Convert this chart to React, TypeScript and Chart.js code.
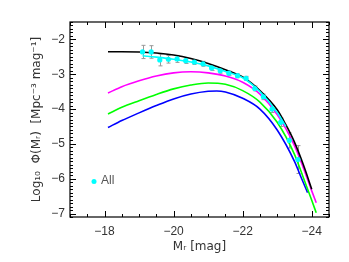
import React, { useEffect, useRef } from "react";
import { Chart, registerables } from "chart.js";

Chart.register(...registerables);

// ---- data ----
const blackX = [-18.1, -18.5, -19, -19.5, -20, -20.5, -21, -21.5, -22, -22.5, -23, -23.25, -23.5, -23.75, -24.0];
const blackY = [-2.355, -2.355, -2.36, -2.39, -2.45, -2.55, -2.69, -2.87, -3.08, -3.47, -4.02, -4.45, -4.95, -5.58, -6.3];

const magentaX = [-18.1, -18.5, -19, -19.5, -20, -20.5, -21, -21.5, -22, -22.5, -23, -23.5, -23.75, -24, -24.13];
const magentaY = [-3.54, -3.36, -3.19, -3.05, -2.96, -2.93, -2.96, -3.05, -3.23, -3.57, -4.16, -5.05, -5.67, -6.35, -6.69];

const greenX = [-18.1, -18.5, -19, -19.5, -20, -20.5, -21, -21.5, -22, -22.5, -23, -23.5, -23.75, -24, -24.13];
const greenY = [-4.14, -3.95, -3.76, -3.58, -3.42, -3.31, -3.25, -3.29, -3.47, -3.8, -4.38, -5.3, -5.95, -6.62, -6.98];

const blueX = [-18.1, -18.5, -19, -19.5, -20, -20.5, -21, -21.25, -21.5, -22, -22.5, -23, -23.5, -23.7, -23.88];
const blueY = [-4.53, -4.33, -4.11, -3.9, -3.71, -3.57, -3.49, -3.48, -3.51, -3.69, -4.0, -4.6, -5.5, -5.98, -6.4];

const fitX = [-19.1, -19.5, -20, -20.5, -21, -21.5, -22, -22.5, -23, -23.25];
const fitY = [-2.47, -2.51, -2.57, -2.65, -2.76, -2.92, -3.1, -3.5, -4.1, -4.5];

const ptX = [-19.1, -19.35, -19.6, -19.85, -20.1, -20.35, -20.6, -20.85, -21.1, -21.35, -21.6, -21.85, -22.1, -22.35, -22.6, -22.85, -23.1, -23.35, -23.6];
const ptY = [-2.36, -2.36, -2.59, -2.57, -2.56, -2.61, -2.65, -2.7, -2.82, -2.9, -2.97, -3.04, -3.12, -3.41, -3.65, -4.0, -4.38, -4.9, -5.45];
const ptErr = [0.19, 0.18, 0.17, 0.11, 0.1, 0.08, 0.07, 0.07, 0.07, 0.07, 0.06, 0.06, 0.06, 0.07, 0.08, 0.1, 0.12, 0.22, 0.4];

const xTicks = [-18, -20, -22, -24];
const yTicks = [-7, -6, -5, -4, -3, -2];
const legendLabel = "All";

const FONT = "'Liberation Sans', 'DejaVu Sans', Arial, sans-serif";
const TEXT = "#333";

const pairs = (xs: number[], ys: number[]) => xs.map((x, i) => ({ x, y: ys[i] }));
const fmt = (v: number) => (v < 0 ? "\u2212" + Math.abs(v) : String(v));

const framePlugin = {
  id: "frame",
  beforeDatasetsDraw(chart: any) {
    const { ctx, scales } = chart;
    const x = scales.x, y = scales.y;
    ctx.save();
    ctx.strokeStyle = "#999";
    ctx.lineWidth = 1;
    ptX.forEach((px, i) => {
      const cx = Math.round(x.getPixelForValue(px)) + 0.5;
      const y1 = y.getPixelForValue(ptY[i] + ptErr[i]);
      const y2 = y.getPixelForValue(ptY[i] - ptErr[i]);
      ctx.beginPath();
      ctx.moveTo(cx, y1);
      ctx.lineTo(cx, y2);
      ctx.moveTo(cx - 2, y1);
      ctx.lineTo(cx + 2, y1);
      ctx.moveTo(cx - 2, y2);
      ctx.lineTo(cx + 2, y2);
      ctx.stroke();
    });
    ctx.restore();
  },
  afterDraw(chart: any) {
    const { ctx, chartArea: a, scales } = chart;
    const x = scales.x, y = scales.y;
    ctx.save();
    ctx.strokeStyle = "#000";
    ctx.lineWidth = 1.2;
    ctx.strokeRect(a.left, a.top, a.right - a.left, a.bottom - a.top);
    ctx.lineWidth = 1;
    ctx.beginPath();
    for (let k = Math.ceil(x.min * 2); k <= Math.floor(x.max * 2); k++) {
      const v = k / 2;
      const major = k % 4 === 0;
      const len = major ? 6 : 3;
      const px = Math.round(x.getPixelForValue(v)) + 0.5;
      ctx.moveTo(px, a.bottom);
      ctx.lineTo(px, a.bottom - len);
      ctx.moveTo(px, a.top);
      ctx.lineTo(px, a.top + len);
    }
    for (let k = Math.ceil(y.min * 10); k <= Math.floor(y.max * 10); k++) {
      const major = k % 10 === 0;
      const len = major ? 6 : 3;
      const py = Math.round(y.getPixelForValue(k / 10)) + 0.5;
      ctx.moveTo(a.left, py);
      ctx.lineTo(a.left + len, py);
      ctx.moveTo(a.right, py);
      ctx.lineTo(a.right - len, py);
    }
    ctx.stroke();
    // legend
    ctx.fillStyle = "#00ffff";
    ctx.beginPath();
    ctx.arc(94, 181.5, 2.5, 0, Math.PI * 2);
    ctx.fill();
    ctx.fillStyle = "#555";
    ctx.font = "12px " + FONT;
    ctx.textBaseline = "middle";
    ctx.fillText(legendLabel, 101, 180.5);
    ctx.restore();
  },
};

export default function App() {
  const ref = useRef<HTMLCanvasElement>(null);
  useEffect(() => {
    const line = (label: string, xs: number[], ys: number[], color: string, order: number) => ({
      label,
      data: pairs(xs, ys),
      borderColor: color,
      backgroundColor: color,
      borderWidth: 1.6,
      pointRadius: 0,
      showLine: true,
      cubicInterpolationMode: "monotone" as const,
      order,
    });
    const chart = new Chart(ref.current!, {
      type: "scatter",
      data: {
        datasets: [
          {
            label: legendLabel,
            data: pairs(ptX, ptY),
            backgroundColor: "#00ffff",
            borderColor: "#00ffff",
            pointRadius: 2.6,
            borderWidth: 0,
            showLine: false,
            order: 0,
          } as any,
          line("fit", fitX, fitY, "#00ffff", 1),
          line("black", blackX, blackY, "#000000", 2),
          line("magenta", magentaX, magentaY, "#ff00ff", 3),
          line("green", greenX, greenY, "#00ff00", 4),
          line("blue", blueX, blueY, "#0000ff", 5),
        ],
      },
      options: {
        animation: false,
        responsive: false,
        devicePixelRatio: 1,
        layout: { padding: { top: 22, right: 20, left: 0, bottom: 0 } },
        plugins: { legend: { display: false }, tooltip: { enabled: false } },
        scales: {
          x: {
            type: "linear",
            reverse: true,
            min: -24.5,
            max: -17,
            afterBuildTicks: (s: any) => {
              s.ticks = xTicks.map((v) => ({ value: v }));
            },
            afterFit: (s: any) => {
              s.height = 45;
            },
            grid: { display: false, drawTicks: false },
            border: { display: false },
            ticks: {
              padding: 7,
              color: TEXT,
              font: { size: 12, family: FONT },
              callback: (v: any) => fmt(Number(v)),
            },
            title: {
              display: true,
              text: "M\u1d63 [mag]",
              color: TEXT,
              font: { size: 12, family: "'DejaVu Sans', sans-serif" },
              padding: { top: 0, bottom: 8 },
            },
          },
          y: {
            type: "linear",
            min: -7.1,
            max: -1.5,
            afterBuildTicks: (s: any) => {
              s.ticks = yTicks.map((v) => ({ value: v }));
            },
            afterFit: (s: any) => {
              s.width = 70;
            },
            grid: { display: false, drawTicks: false },
            border: { display: false },
            ticks: {
              padding: 5,
              color: TEXT,
              font: { size: 12, family: FONT },
              callback: (v: any) => fmt(Number(v)),
            },
            title: {
              display: true,
              text: "Log\u2081\u2080  \u03a6(M\u1d63)  [Mpc\u207b\u00b3 mag\u207b\u00b9]",
              color: TEXT,
              font: { size: 12, family: "'DejaVu Sans', sans-serif" },
              padding: { top: 30, bottom: 0 },
            },
          },
        },
      },
      plugins: [framePlugin],
    });
    return () => chart.destroy();
  }, []);
  return (
    <div style={{ position: "absolute", left: 0, top: 0, width: 349, height: 262 }}>
      <canvas ref={ref} width={349} height={262} style={{ width: 349, height: 262 }} />
    </div>
  );
}
